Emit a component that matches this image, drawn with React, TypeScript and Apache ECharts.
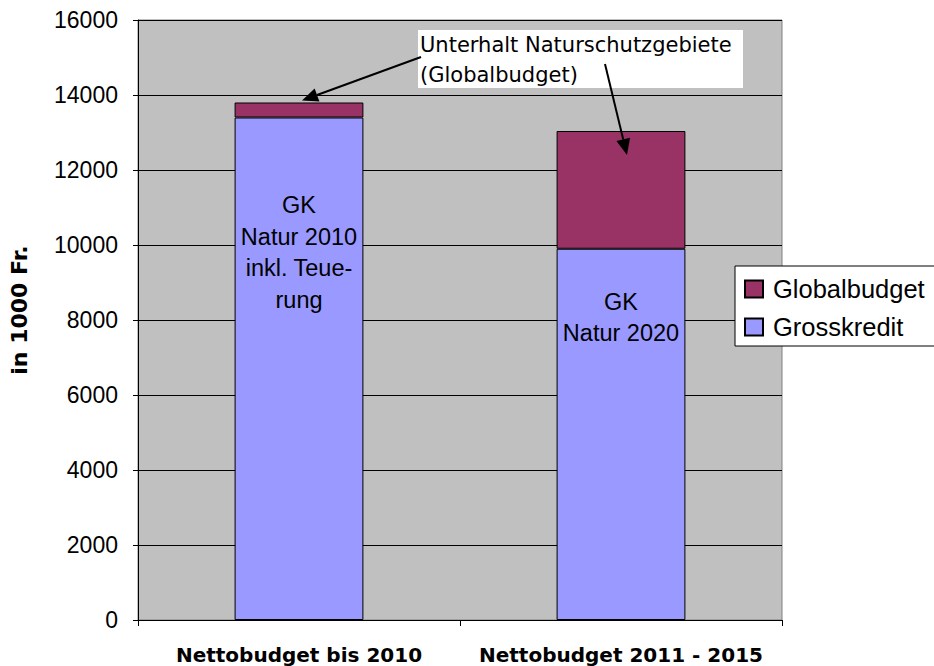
import React, { useEffect, useRef } from "react";
import * as echarts from "echarts";

const categories = ["Nettobudget bis 2010", "Nettobudget 2011 - 2015"];
const grosskredit = [13400, 9900];
const globalbudget = [400, 3140];
const barLabels = ["GK\nNatur 2010\ninkl. Teue-\nrung", "GK\nNatur 2020"];
const yTicks = { min: 0, max: 16000, interval: 2000 };
const annotationLines = ["Unterhalt Naturschutzgebiete", "(Globalbudget)"];

const FONT = "'Liberation Sans', Arial, sans-serif";
const WIDE = "'DejaVu Sans', sans-serif";

function arrow(x1: number, y1: number, x2: number, y2: number) {
  const dx = x2 - x1, dy = y2 - y1;
  const len = Math.sqrt(dx * dx + dy * dy);
  const ux = dx / len, uy = dy / len;
  const hl = 16, hw = 7;
  const bx = x2 - ux * hl, by = y2 - uy * hl;
  return [
    { type: "line", shape: { x1, y1, x2: bx, y2: by }, style: { stroke: "#000", lineWidth: 2 }, z: 100 },
    {
      type: "polygon",
      shape: { points: [[x2, y2], [bx - uy * hw, by + ux * hw], [bx + uy * hw, by - ux * hw]] },
      style: { fill: "#000" },
      z: 100,
    },
  ];
}

export default function App() {
  const ref = useRef<HTMLDivElement>(null);
  useEffect(() => {
    const chart = echarts.init(ref.current!, null, { renderer: "svg" });
    const option: any = {
      animation: false,
      grid: {
        left: 136, right: 152, top: 20, bottom: 46,
        show: true, backgroundColor: "#C0C0C0", borderColor: "#808080", borderWidth: 1,
      },
      legend: {
        orient: "vertical",
        left: 735, top: 266,
        data: ["Globalbudget", "Grosskredit"],
        backgroundColor: "#fff",
        borderColor: "#000",
        borderWidth: 1,
        padding: [10, 60, 6, 9],
        itemWidth: 18, itemHeight: 17, itemGap: 12, icon: "rect",
        textStyle: { fontFamily: FONT, fontSize: 25.5, color: "#000", lineHeight: 25, padding: [0, 0, 0, 5] },
        selectedMode: false,
      },
      xAxis: {
        type: "category",
        data: categories,
        axisLine: { lineStyle: { color: "#000", width: 1 } },
        axisTick: { show: true, length: 6, lineStyle: { color: "#000" } },
        axisLabel: {
          interval: 0, fontFamily: WIDE, fontSize: 20, lineHeight: 20, fontWeight: "bold", color: "#000", margin: 25,
        },
        splitLine: { show: false },
      },
      yAxis: {
        type: "value",
        min: yTicks.min, max: yTicks.max, interval: yTicks.interval,
        name: "in 1000 Fr.",
        nameLocation: "middle",
        nameRotate: 90,
        nameGap: 108,
        nameTextStyle: { fontFamily: WIDE, fontSize: 22, fontWeight: "bold", color: "#000", padding: [0, 0, 0, 20] },
        axisLine: { show: true, lineStyle: { color: "#000", width: 1 } },
        axisTick: { show: true, length: 5, lineStyle: { color: "#000" } },
        axisLabel: { fontFamily: FONT, fontSize: 23, color: "#000", margin: 20, formatter: (v: number) => String(v) },
        splitLine: { show: true, lineStyle: { color: "#000", width: 1 } },
      },
      series: [
        {
          name: "Grosskredit",
          type: "bar",
          stack: "total",
          barCategoryGap: "60%",
          itemStyle: { color: "#9999FF", borderColor: "#000", borderWidth: 1 },
          data: grosskredit.map((v, i) => ({
            value: v,
            label: {
              show: true,
              position: "insideTop",
              distance: i === 0 ? 72 : 37,
              formatter: barLabels[i],
              fontFamily: FONT,
              fontSize: 23.5,
              lineHeight: 31.5,
              color: "#000",
              align: "center",
            },
          })),
        },
        {
          name: "Globalbudget",
          type: "bar",
          stack: "total",
          barCategoryGap: "60%",
          itemStyle: { color: "#993366", borderColor: "#000", borderWidth: 1 },
          data: globalbudget,
        },
      ],
    };
    chart.setOption(option);

    const tip1 = chart.convertToPixel({ gridIndex: 0 }, [0, grosskredit[0] + globalbudget[0]]) as number[];
    const tip2 = chart.convertToPixel({ gridIndex: 0 }, [1, 12400]) as number[];
    chart.setOption({
      graphic: [
        { type: "rect", shape: { x: 418, y: 30, width: 325, height: 58 }, style: { fill: "#fff" }, z: 90 },
        {
          type: "text", x: 420, y: 45, z: 95,
          style: { text: annotationLines[0], fontFamily: WIDE, fontSize: 21, fill: "#000", verticalAlign: "middle" },
        },
        {
          type: "text", x: 420, y: 75, z: 95,
          style: { text: annotationLines[1], fontFamily: WIDE, fontSize: 21, fill: "#000", verticalAlign: "middle" },
        },
        ...arrow(421, 57, tip1[0] + 3, tip1[1] - 2),
        ...arrow(605, 64, tip2[0] + 6, tip2[1]),
      ],
    });
    return () => chart.dispose();
  }, []);
  return <div ref={ref} style={{ position: "absolute", left: 0, top: 0, width: 934, height: 666 }} />;
}
